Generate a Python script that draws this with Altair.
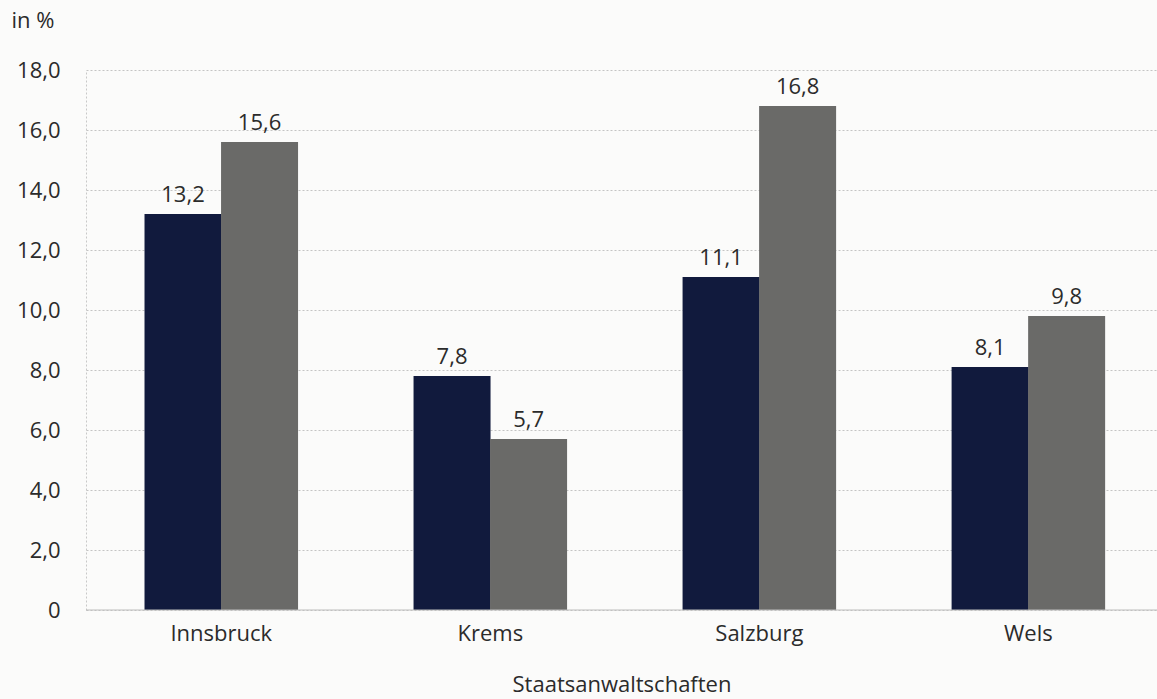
import altair as alt
import pandas as pd

categories = ["Innsbruck", "Krems", "Salzburg", "Wels"]
series = ["Reihe 1", "Reihe 2"]
values_1 = [13.2, 7.8, 11.1, 8.1]
values_2 = [15.6, 5.7, 16.8, 9.8]

rows = []
for c, v1, v2 in zip(categories, values_1, values_2):
    rows.append({"ort": c, "reihe": series[0], "wert": v1})
    rows.append({"ort": c, "reihe": series[1], "wert": v2})
df = pd.DataFrame(rows)
df["label"] = df["wert"].map(lambda v: f"{v:.1f}".replace(".", ","))

FONT = "Open Sans"
TXT = "#2b2b2b"
FS = 22

x = alt.X("ort:N", sort=categories, title="Staatsanwaltschaften",
          scale=alt.Scale(paddingInner=0.431, paddingOuter=0.206, align=0.53),
          axis=alt.Axis(labelAngle=0, labelFontSize=FS, labelFont=FONT, labelColor=TXT,
                        labelPadding=13, ticks=False, domain=False,
                        titleFontSize=FS, titleFont=FONT, titleColor=TXT,
                        titleFontWeight="normal", titlePadding=30))
xo = alt.XOffset("reihe:N", sort=series)
y = alt.Y("wert:Q", scale=alt.Scale(domain=[0, 18], nice=False),
          axis=alt.Axis(values=[0, 2, 4, 6, 8, 10, 12, 14, 16, 18],
                        labelExpr="datum.value == 0 ? '0' : replace(format(datum.value, '.1f'), '.', ',')",
                        labelFontSize=FS, labelFont=FONT, labelColor=TXT, labelPadding=26,
                        ticks=False, domain=True, domainColor="#c8c8c8", domainDash=[2, 2],
                        grid=True, gridColor="#c4c4c4", gridDash=[2, 2], gridWidth=1,
                        title="in %", titleAngle=0, titleAlign="left", titleBaseline="middle",
                        titleX=-75, titleY=-50, titleFontSize=FS, titleFont=FONT,
                        titleColor=TXT, titleFontWeight="normal"))

color = alt.Color("reihe:N", sort=series,
                  scale=alt.Scale(domain=series, range=["#111a3d", "#6a6a68"]),
                  legend=None)

bars = alt.Chart(df).mark_bar(size=77).encode(x=x, xOffset=xo, y=y, color=color)
labels = alt.Chart(df).mark_text(dy=-7, baseline="bottom", fontSize=FS, font=FONT,
                                 color=TXT).encode(x=x, xOffset=xo, y=y, text="label:N")
base_line = alt.Chart(pd.DataFrame({"v": [0]})).mark_rule(color="#bdbdbd", strokeWidth=1).encode(y="v:Q")

chart = (bars + labels + base_line).properties(
    width=1071, height=540,
    autosize=alt.AutoSizeParams(type="none"),
    padding={"left": 86, "top": 70, "right": 0, "bottom": 89},
    background="#fbfbfa",
).configure_view(stroke=None)

chart.save("out.html", embed_options={"renderer": "svg", "actions": False})
